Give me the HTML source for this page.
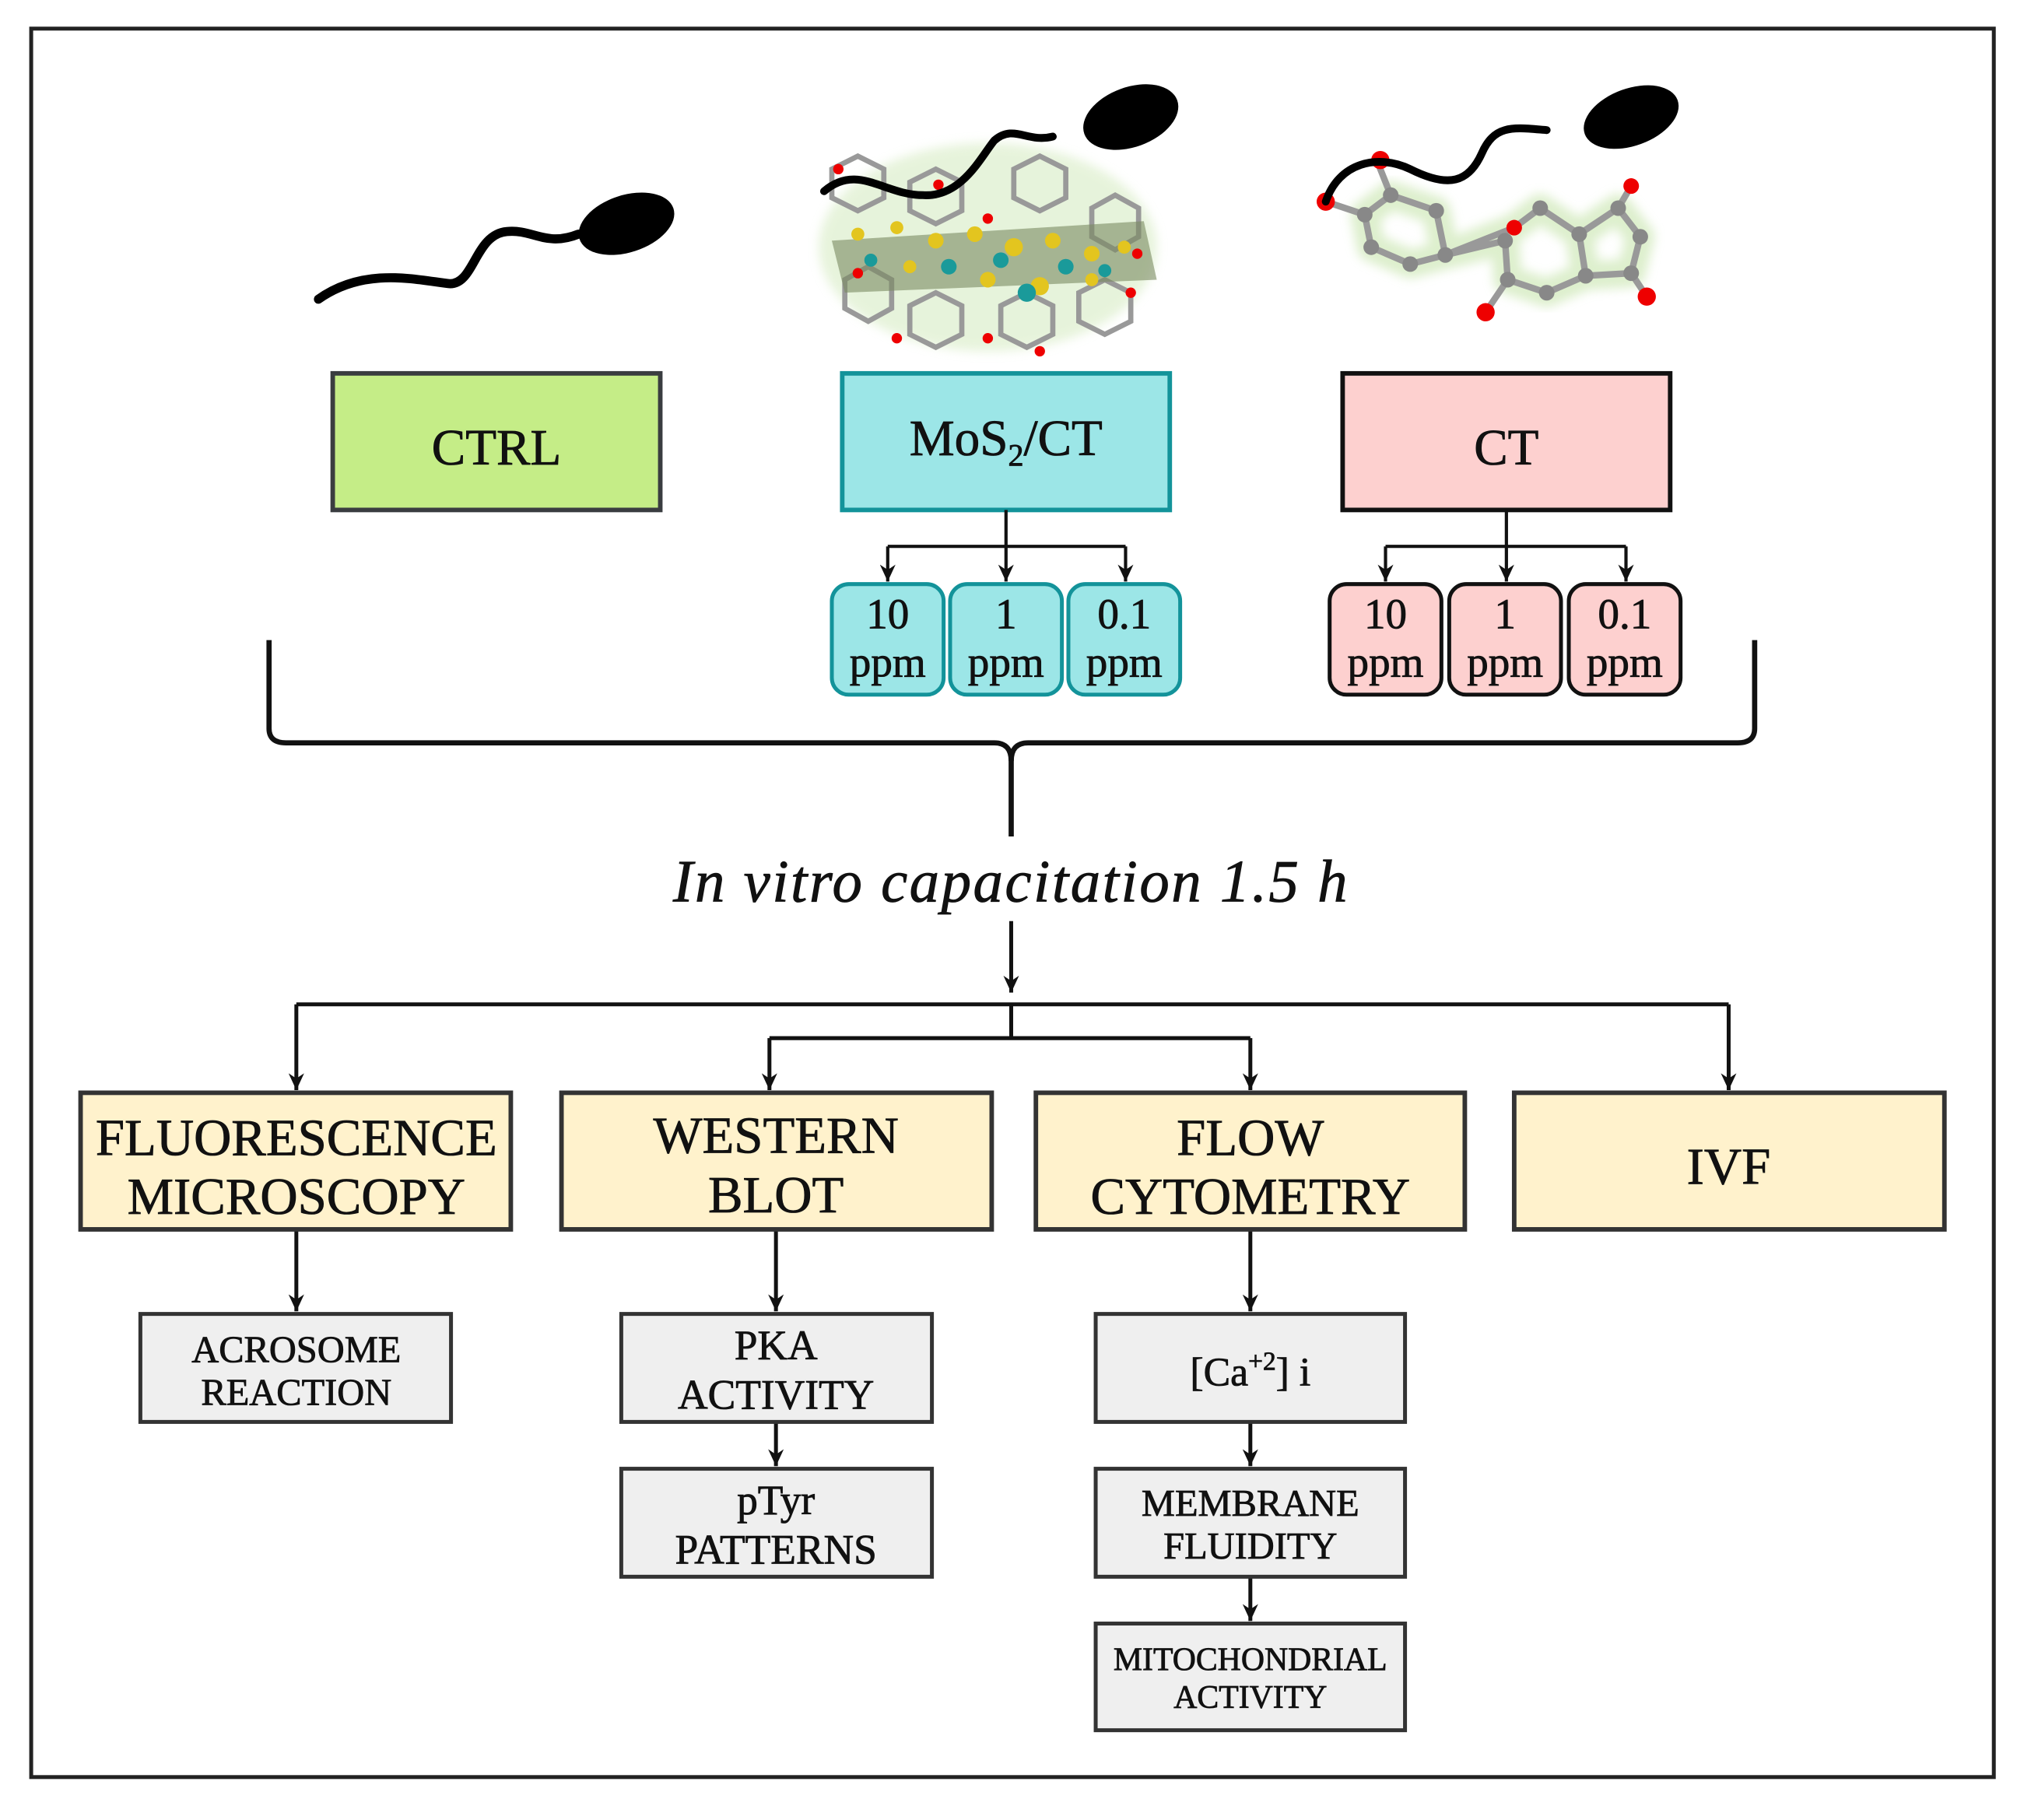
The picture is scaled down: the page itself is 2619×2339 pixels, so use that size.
<!DOCTYPE html>
<html><head><meta charset="utf-8"><style>
html,body{margin:0;padding:0;background:#fff;}
svg{display:block;}
text{font-family:"Liberation Serif",serif;fill:#111;stroke:#111;stroke-width:0.5;}
</style></head><body>
<svg width="2619" height="2339" viewBox="0 0 1568 1399" preserveAspectRatio="none" xmlns="http://www.w3.org/2000/svg">
<defs>
<marker id="ar" markerWidth="14" markerHeight="12" refX="13" refY="6" orient="auto" markerUnits="userSpaceOnUse"><path d="M0,0 L13,6 L0,12 L4,6 Z" fill="#111"/></marker>
<filter id="glow" x="-20%" y="-20%" width="140%" height="140%"><feGaussianBlur stdDeviation="4"/></filter>
</defs>
<rect x="24" y="22" width="1510" height="1344" fill="#fff" stroke="#222" stroke-width="3"/>

<!-- sperm CTRL -->
<path d="M245,230 C280,205 320,215 345,218 C365,220 365,180 390,178 C410,176 420,190 445,180" fill="none" stroke="#000" stroke-width="7" stroke-linecap="round"/>
<ellipse cx="482" cy="172" rx="38" ry="22" transform="rotate(-18 482 172)" fill="#000"/>

<!-- MoS2 molecule -->
<g>
<ellipse cx="760" cy="190" rx="130" ry="80" fill="#cfe8b8" opacity="0.5" filter="url(#glow)"/>
<g fill="none" stroke="#999" stroke-width="4">
<path d="M640,130 l20,-10 l20,10 l0,22 l-20,10 l-20,-10 z"/>
<path d="M700,140 l20,-10 l20,10 l0,22 l-20,10 l-20,-10 z"/>
<path d="M780,130 l20,-10 l20,10 l0,22 l-20,10 l-20,-10 z"/>
<path d="M840,160 l18,-10 l18,10 l0,22 l-18,10 l-18,-10 z"/>
<path d="M650,215 l18,-10 l18,10 l0,22 l-18,10 l-18,-10 z"/>
<path d="M700,235 l20,-10 l20,10 l0,22 l-20,10 l-20,-10 z"/>
<path d="M770,235 l20,-10 l20,10 l0,22 l-20,10 l-20,-10 z"/>
<path d="M830,225 l20,-10 l20,10 l0,22 l-20,10 l-20,-10 z"/>
</g>
<path d="M640,185 L880,170 L890,215 L650,225 Z" fill="#7a8a60" opacity="0.6"/>
<g fill="#e3c51f">
<circle cx="660" cy="180" r="5"/><circle cx="690" cy="175" r="5"/><circle cx="720" cy="185" r="6"/><circle cx="750" cy="180" r="6"/><circle cx="780" cy="190" r="7"/><circle cx="810" cy="185" r="6"/><circle cx="840" cy="195" r="6"/><circle cx="865" cy="190" r="5"/><circle cx="700" cy="205" r="5"/><circle cx="760" cy="215" r="6"/><circle cx="800" cy="220" r="7"/><circle cx="840" cy="215" r="5"/>
</g>
<g fill="#1a9a9a">
<circle cx="670" cy="200" r="5"/><circle cx="730" cy="205" r="6"/><circle cx="770" cy="200" r="6"/><circle cx="820" cy="205" r="6"/><circle cx="790" cy="225" r="7"/><circle cx="850" cy="208" r="5"/>
</g>
<g fill="#e00">
<circle cx="645" cy="130" r="4"/><circle cx="722" cy="142" r="4"/><circle cx="760" cy="168" r="4"/><circle cx="875" cy="195" r="4"/><circle cx="690" cy="260" r="4"/><circle cx="760" cy="260" r="4"/><circle cx="800" cy="270" r="4"/><circle cx="870" cy="225" r="4"/><circle cx="660" cy="210" r="4"/>
</g>
<path d="M634,147 C660,125 680,150 710,150 C740,152 755,120 765,108 C780,95 790,110 810,105" fill="none" stroke="#000" stroke-width="6" stroke-linecap="round"/>
<ellipse cx="870" cy="90" rx="38" ry="23" transform="rotate(-20 870 90)" fill="#000"/>
</g>

<!-- CT molecule -->
<g>
<g fill="none" stroke="#cfe8b8" stroke-width="22" stroke-linejoin="round" opacity="0.7" filter="url(#glow)">
<path d="M1070,150 L1105,162 L1112,196 L1085,203 L1055,190 L1050,165 Z"/>
<path d="M1112,196 L1158,185 L1160,215 L1190,225 L1220,212 L1215,180 L1185,160 L1165,175 Z"/>
<path d="M1215,180 L1245,160 L1262,182 L1255,210 L1220,212"/>
</g>
<g fill="none" stroke="#999" stroke-width="5">
<path d="M1070,150 L1105,162 L1112,196 L1085,203 L1055,190 L1050,165 Z"/>
<path d="M1112,196 L1158,185 L1160,215 L1190,225 L1220,212 L1215,180 L1185,160 L1165,175 Z"/>
<path d="M1215,180 L1245,160 L1262,182 L1255,210 L1220,212"/>
<path d="M1020,155 L1050,165 M1060,125 L1070,150 M1160,215 L1143,240 M1245,160 L1255,143 M1255,210 L1267,228"/>
</g>
<g fill="#888">
<circle cx="1070" cy="150" r="6"/><circle cx="1105" cy="162" r="6"/><circle cx="1112" cy="196" r="6"/><circle cx="1085" cy="203" r="6"/><circle cx="1055" cy="190" r="6"/><circle cx="1050" cy="165" r="6"/><circle cx="1158" cy="185" r="6"/><circle cx="1160" cy="215" r="6"/><circle cx="1190" cy="225" r="6"/><circle cx="1220" cy="212" r="6"/><circle cx="1215" cy="180" r="6"/><circle cx="1245" cy="160" r="6"/><circle cx="1262" cy="182" r="6"/><circle cx="1255" cy="210" r="6"/><circle cx="1185" cy="160" r="6"/>
</g>
<g fill="#e00">
<circle cx="1020" cy="155" r="7"/><circle cx="1062" cy="123" r="7"/><circle cx="1165" cy="175" r="6"/><circle cx="1143" cy="240" r="7"/><circle cx="1255" cy="143" r="6"/><circle cx="1267" cy="228" r="7"/>
</g>
<path d="M1020,155 C1030,125 1060,118 1085,130 C1115,145 1130,140 1140,118 C1150,95 1165,98 1190,100" fill="none" stroke="#000" stroke-width="6" stroke-linecap="round"/>
<ellipse cx="1255" cy="90" rx="38" ry="22" transform="rotate(-20 1255 90)" fill="#000"/>
</g>

<!-- top boxes -->
<rect x="256" y="287" width="252" height="105" fill="#c5ed87" stroke="#3a3d40" stroke-width="3.5"/>
<text x="382" y="357" font-size="39" text-anchor="middle">CTRL</text>
<rect x="648" y="287" width="252" height="105" fill="#9ce6e7" stroke="#13939a" stroke-width="3.5"/>
<text x="774" y="350" font-size="39" text-anchor="middle">MoS<tspan font-size="24" dy="8">2</tspan><tspan dy="-8">/CT</tspan></text>
<rect x="1033" y="287" width="252" height="105" fill="#fdd0cf" stroke="#111" stroke-width="3.5"/>
<text x="1159" y="357" font-size="39" text-anchor="middle">CT</text>

<!-- ppm connectors -->
<g stroke="#111" stroke-width="2.5" fill="none">
<path d="M774,392 V447" marker-end="url(#ar)"/>
<path d="M683,420 H866"/>
<path d="M683,420 V447" marker-end="url(#ar)"/>
<path d="M866,420 V447" marker-end="url(#ar)"/>
<path d="M1159,392 V447" marker-end="url(#ar)"/>
<path d="M1066,420 H1251"/>
<path d="M1066,420 V447" marker-end="url(#ar)"/>
<path d="M1251,420 V447" marker-end="url(#ar)"/>
</g>

<g font-size="33" text-anchor="middle">
<g fill="#9ce6e7" stroke="#13939a" stroke-width="3">
<rect x="640" y="449" width="86" height="85" rx="13"/>
<rect x="731" y="449" width="86" height="85" rx="13"/>
<rect x="822" y="449" width="86" height="85" rx="13"/>
</g>
<g fill="#fdd0cf" stroke="#111" stroke-width="3">
<rect x="1023" y="449" width="86" height="85" rx="13"/>
<rect x="1115" y="449" width="86" height="85" rx="13"/>
<rect x="1207" y="449" width="86" height="85" rx="13"/>
</g>
<text x="683" y="483">10</text><text x="683" y="520">ppm</text>
<text x="774" y="483">1</text><text x="774" y="520">ppm</text>
<text x="865" y="483">0.1</text><text x="865" y="520">ppm</text>
<text x="1066" y="483">10</text><text x="1066" y="520">ppm</text>
<text x="1158" y="483">1</text><text x="1158" y="520">ppm</text>
<text x="1250" y="483">0.1</text><text x="1250" y="520">ppm</text>
</g>

<!-- bracket -->
<path d="M207,492 V560 Q207,571 220,571 H765 Q778,571 778,585 Q778,571 791,571 H1337 Q1350,571 1350,560 V492" fill="none" stroke="#111" stroke-width="4"/>
<path d="M778,580 V643" stroke="#111" stroke-width="4"/>

<text x="778" y="693" font-size="46" font-style="italic" text-anchor="middle" letter-spacing="1.5">In vitro capacitation 1.5 h</text>

<g stroke="#111" stroke-width="3" fill="none">
<path d="M778,708 V763" marker-end="url(#ar)"/>
<path d="M228,772 H1330"/>
<path d="M228,772 V838" marker-end="url(#ar)"/>
<path d="M1330,772 V838" marker-end="url(#ar)"/>
<path d="M778,772 V798 M592,798 H962"/>
<path d="M592,798 V838" marker-end="url(#ar)"/>
<path d="M962,798 V838" marker-end="url(#ar)"/>
<path d="M228,945 V1008" marker-end="url(#ar)"/>
<path d="M597,945 V1008" marker-end="url(#ar)"/>
<path d="M597,1093 V1127" marker-end="url(#ar)"/>
<path d="M962,945 V1008" marker-end="url(#ar)"/>
<path d="M962,1093 V1127" marker-end="url(#ar)"/>
<path d="M962,1212 V1246" marker-end="url(#ar)"/>
</g>

<g fill="#fff2cc" stroke="#333" stroke-width="3.5">
<rect x="62" y="840" width="331" height="105"/>
<rect x="432" y="840" width="331" height="105"/>
<rect x="797" y="840" width="330" height="105"/>
<rect x="1165" y="840" width="331" height="105"/>
</g>
<g font-size="40" text-anchor="middle">
<text x="228" y="888">FLUORESCENCE</text><text x="228" y="933">MICROSCOPY</text>
<text x="597" y="886">WESTERN</text><text x="597" y="932">BLOT</text>
<text x="962" y="888">FLOW</text><text x="962" y="933">CYTOMETRY</text>
<text x="1330" y="910">IVF</text>
</g>

<g fill="#efefef" stroke="#333" stroke-width="3">
<rect x="108" y="1010" width="239" height="83"/>
<rect x="478" y="1010" width="239" height="83"/>
<rect x="478" y="1129" width="239" height="83"/>
<rect x="843" y="1010" width="238" height="83"/>
<rect x="843" y="1129" width="238" height="83"/>
<rect x="843" y="1248" width="238" height="82"/>
</g>
<g text-anchor="middle">
<text x="228" y="1047" font-size="29">ACROSOME</text><text x="228" y="1080" font-size="29">REACTION</text>
<text x="597" y="1045" font-size="32">PKA</text><text x="597" y="1083" font-size="32">ACTIVITY</text>
<text x="597" y="1164" font-size="32">pTyr</text><text x="597" y="1202" font-size="32">PATTERNS</text>
<text x="962" y="1065" font-size="31">[Ca<tspan font-size="20" dy="-12">+2</tspan><tspan dy="12">] i</tspan></text>
<text x="962" y="1165" font-size="29">MEMBRANE</text><text x="962" y="1198" font-size="29">FLUIDITY</text>
<text x="962" y="1284" font-size="25">MITOCHONDRIAL</text><text x="962" y="1313" font-size="25">ACTIVITY</text>
</g>
</svg>
</body></html>
